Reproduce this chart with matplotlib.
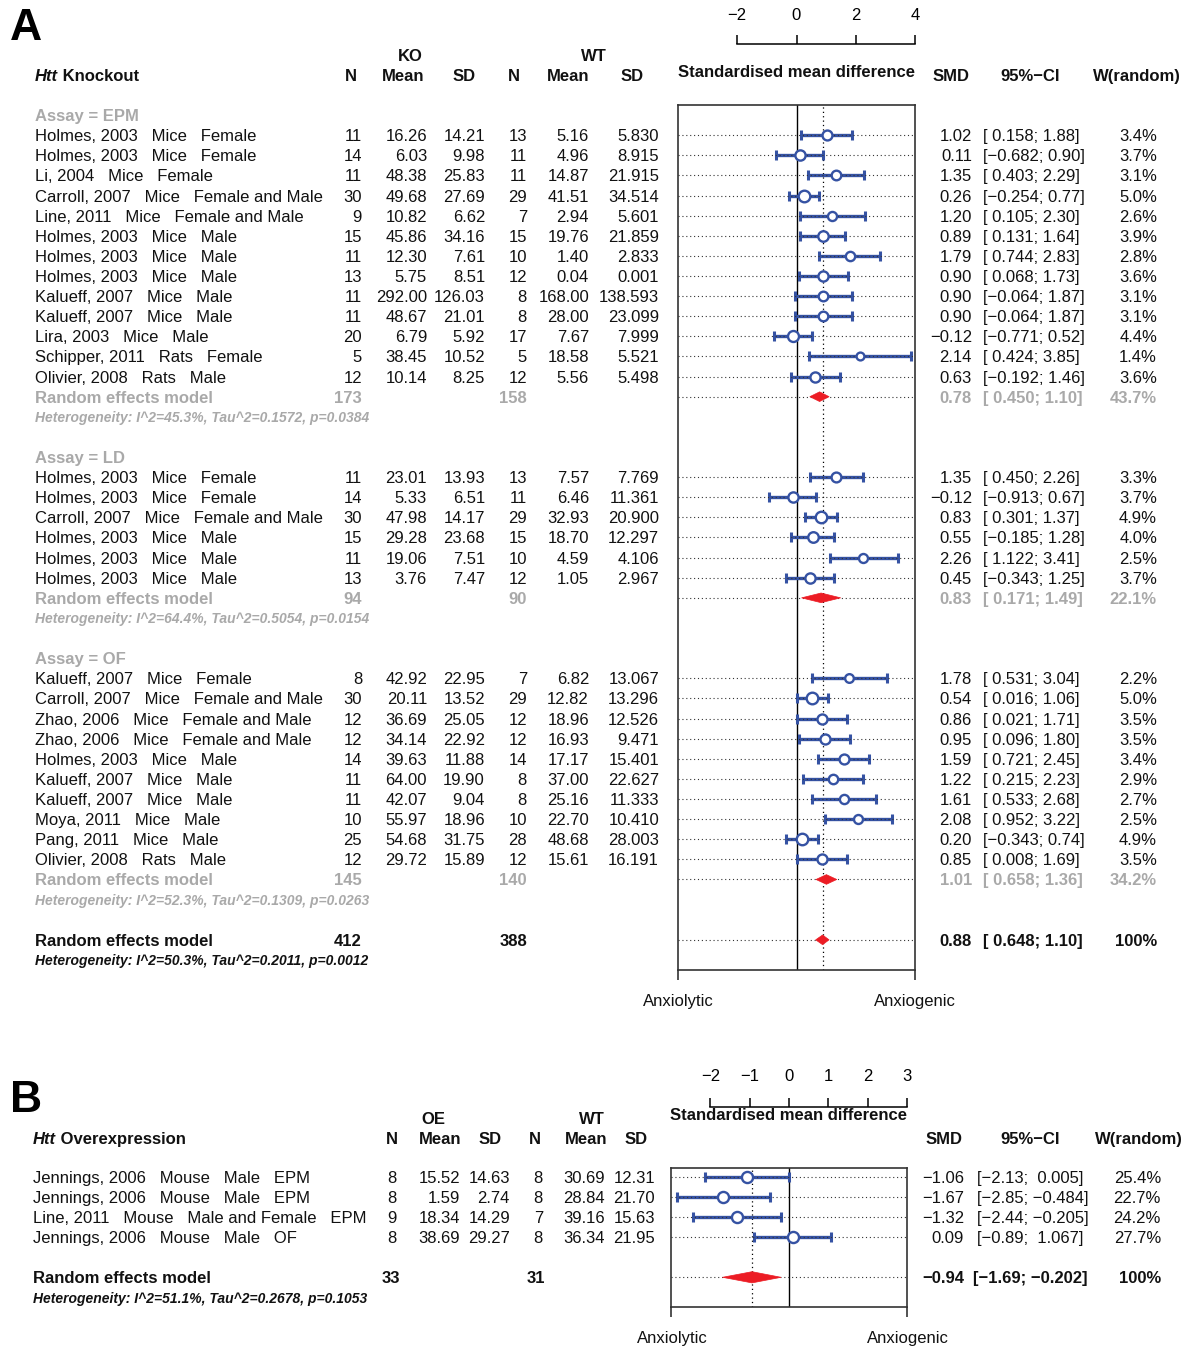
import numpy as np
import matplotlib
matplotlib.use("Agg")
import matplotlib.pyplot as plt
from matplotlib import transforms
from matplotlib.patches import Polygon

plt.rcParams['font.family'] = ['Liberation Sans', 'DejaVu Sans']

W, H = 1184, 1346
FS = 12.0
FS_HET = 10.0
BLUE = '#3552a3'
RED = '#ec1c24'
GRAY = '#a9a9a9'
INK = '#111111'

# ---------------- panel A data (Htt knockout) ----------------
a_study = [
    "Holmes, 2003   Mice   Female", "Holmes, 2003   Mice   Female", "Li, 2004   Mice   Female",
    "Carroll, 2007   Mice   Female and Male", "Line, 2011   Mice   Female and Male",
    "Holmes, 2003   Mice   Male", "Holmes, 2003   Mice   Male", "Holmes, 2003   Mice   Male",
    "Kalueff, 2007   Mice   Male", "Kalueff, 2007   Mice   Male", "Lira, 2003   Mice   Male",
    "Schipper, 2011   Rats   Female", "Olivier, 2008   Rats   Male",
    "Holmes, 2003   Mice   Female", "Holmes, 2003   Mice   Female",
    "Carroll, 2007   Mice   Female and Male", "Holmes, 2003   Mice   Male",
    "Holmes, 2003   Mice   Male", "Holmes, 2003   Mice   Male",
    "Kalueff, 2007   Mice   Female", "Carroll, 2007   Mice   Female and Male",
    "Zhao, 2006   Mice   Female and Male", "Zhao, 2006   Mice   Female and Male",
    "Holmes, 2003   Mice   Male", "Kalueff, 2007   Mice   Male", "Kalueff, 2007   Mice   Male",
    "Moya, 2011   Mice   Male", "Pang, 2011   Mice   Male", "Olivier, 2008   Rats   Male",
]
a_ko_n = [11, 14, 11, 30, 9, 15, 11, 13, 11, 11, 20, 5, 12,
          11, 14, 30, 15, 11, 13,
          8, 30, 12, 12, 14, 11, 11, 10, 25, 12]
a_ko_mean = ["16.26", "6.03", "48.38", "49.68", "10.82", "45.86", "12.30", "5.75", "292.00", "48.67",
             "6.79", "38.45", "10.14",
             "23.01", "5.33", "47.98", "29.28", "19.06", "3.76",
             "42.92", "20.11", "36.69", "34.14", "39.63", "64.00", "42.07", "55.97", "54.68", "29.72"]
a_ko_sd = ["14.21", "9.98", "25.83", "27.69", "6.62", "34.16", "7.61", "8.51", "126.03", "21.01",
           "5.92", "10.52", "8.25",
           "13.93", "6.51", "14.17", "23.68", "7.51", "7.47",
           "22.95", "13.52", "25.05", "22.92", "11.88", "19.90", "9.04", "18.96", "31.75", "15.89"]
a_wt_n = [13, 11, 11, 29, 7, 15, 10, 12, 8, 8, 17, 5, 12,
          13, 11, 29, 15, 10, 12,
          7, 29, 12, 12, 14, 8, 8, 10, 28, 12]
a_wt_mean = ["5.16", "4.96", "14.87", "41.51", "2.94", "19.76", "1.40", "0.04", "168.00", "28.00",
             "7.67", "18.58", "5.56",
             "7.57", "6.46", "32.93", "18.70", "4.59", "1.05",
             "6.82", "12.82", "18.96", "16.93", "17.17", "37.00", "25.16", "22.70", "48.68", "15.61"]
a_wt_sd = ["5.830", "8.915", "21.915", "34.514", "5.601", "21.859", "2.833", "0.001", "138.593", "23.099",
           "7.999", "5.521", "5.498",
           "7.769", "11.361", "20.900", "12.297", "4.106", "2.967",
           "13.067", "13.296", "12.526", "9.471", "15.401", "22.627", "11.333", "10.410", "28.003", "16.191"]
a_smd = ["1.02", "0.11", "1.35", "0.26", "1.20", "0.89", "1.79", "0.90", "0.90", "0.90", "-0.12", "2.14", "0.63",
         "1.35", "-0.12", "0.83", "0.55", "2.26", "0.45",
         "1.78", "0.54", "0.86", "0.95", "1.59", "1.22", "1.61", "2.08", "0.20", "0.85"]
a_lo = ["0.158", "-0.682", "0.403", "-0.254", "0.105", "0.131", "0.744", "0.068", "-0.064", "-0.064",
        "-0.771", "0.424", "-0.192",
        "0.450", "-0.913", "0.301", "-0.185", "1.122", "-0.343",
        "0.531", "0.016", "0.021", "0.096", "0.721", "0.215", "0.533", "0.952", "-0.343", "0.008"]
a_hi = ["1.88", "0.90", "2.29", "0.77", "2.30", "1.64", "2.83", "1.73", "1.87", "1.87", "0.52", "3.85", "1.46",
        "2.26", "0.67", "1.37", "1.28", "3.41", "1.25",
        "3.04", "1.06", "1.71", "1.80", "2.45", "2.23", "2.68", "3.22", "0.74", "1.69"]
a_w = ["3.4%", "3.7%", "3.1%", "5.0%", "2.6%", "3.9%", "2.8%", "3.6%", "3.1%", "3.1%", "4.4%", "1.4%", "3.6%",
       "3.3%", "3.7%", "4.9%", "4.0%", "2.5%", "3.7%",
       "2.2%", "5.0%", "3.5%", "3.5%", "3.4%", "2.9%", "2.7%", "2.5%", "4.9%", "3.5%"]

grp_name = ["EPM", "LD", "OF"]
grp_size = [13, 6, 10]
grp_ko_n = [173, 94, 145]
grp_wt_n = [158, 90, 140]
grp_smd = ["0.78", "0.83", "1.01"]
grp_lo = ["0.450", "0.171", "0.658"]
grp_hi = ["1.10", "1.49", "1.36"]
grp_w = ["43.7%", "22.1%", "34.2%"]
grp_het = ["I^2=45.3%, Tau^2=0.1572, p=0.0384",
           "I^2=64.4%, Tau^2=0.5054, p=0.0154",
           "I^2=52.3%, Tau^2=0.1309, p=0.0263"]

a_tot = [412, 388]
a_sum = ["0.88", "0.648", "1.10", "100%"]
a_het = "I^2=50.3%, Tau^2=0.2011, p=0.0012"

# ---------------- panel B data (Htt overexpression) ----------------
b_study = ["Jennings, 2006   Mouse   Male   EPM", "Jennings, 2006   Mouse   Male   EPM",
           "Line, 2011   Mouse   Male and Female   EPM", "Jennings, 2006   Mouse   Male   OF"]
b_oe_n = [8, 8, 9, 8]
b_oe_mean = ["15.52", "1.59", "18.34", "38.69"]
b_oe_sd = ["14.63", "2.74", "14.29", "29.27"]
b_wt_n = [8, 8, 7, 8]
b_wt_mean = ["30.69", "28.84", "39.16", "36.34"]
b_wt_sd = ["12.31", "21.70", "15.63", "21.95"]
b_smd = ["-1.06", "-1.67", "-1.32", "0.09"]
b_lo = ["-2.13", "-2.85", "-2.44", "-0.89"]
b_hi = ["0.005", "-0.484", "-0.205", "1.067"]
b_w = ["25.4%", "22.7%", "24.2%", "27.7%"]
b_tot = [33, 31]
b_sum = ["-0.94", "-1.69", "-0.202", "100%"]
b_het = "I^2=51.1%, Tau^2=0.2678, p=0.1053"


def mn(s):
    return s.replace('-', '\u2212')


def ci_text(lo, hi, pad_lo, pad_hi):
    l = (" " if pad_lo and not lo.startswith('-') else "") + lo
    h = (" " if pad_hi and not hi.startswith('-') else "") + hi
    return mn("[" + l + "; " + h + "]")


fig = plt.figure(figsize=(W / 100, H / 100), dpi=100)


def ftext(x, y, s, ha='left', **kw):
    kw.setdefault('fontsize', FS)
    kw.setdefault('color', INK)
    return fig.text(x / W, 1 - y / H, s, ha=ha, va='center_baseline', **kw)


def row_writer(ax):
    blend = transforms.blended_transform_factory(fig.transFigure, ax.transData)

    def put(x, k, s, ha='left', **kw):
        kw.setdefault('fontsize', FS)
        kw.setdefault('color', INK)
        return ax.text(x / W, k, s, ha=ha, va='center_baseline', transform=blend, **kw)
    return put


def forest_axes(left, right, top, bottom, xlim, ylim, zero_dot, end_ticks):
    ax = fig.add_axes([left / W, 1 - bottom / H, (right - left) / W, (bottom - top) / H])
    ax.set_xlim(*xlim)
    ax.set_ylim(*ylim)
    for sp in ax.spines.values():
        sp.set_color('#333333')
        sp.set_linewidth(1.2)
    ax.set_xticks(end_ticks)
    ax.set_xticklabels([])
    ax.tick_params(axis='x', direction='out', length=7, width=1.2, color='#333333')
    ax.set_yticks([])
    ax.axvline(0, color='black', lw=1.0, zorder=1)
    ax.axvline(zero_dot, color='black', lw=0.9, ls=(0, (1, 2.5)), zorder=1)
    return ax


def top_scale(left, right, line_y, xlim, ticks, bounds, pad):
    ax = fig.add_axes([left / W, 1 - line_y / H, (right - left) / W, 9 / H])
    ax.set_xlim(*xlim)
    ax.patch.set_visible(False)
    for name in ['top', 'left', 'right']:
        ax.spines[name].set_visible(False)
    ax.spines['bottom'].set_bounds(*bounds)
    ax.spines['bottom'].set_linewidth(1.1)
    ax.set_yticks([])
    ax.set_xticks(ticks)
    ax.tick_params(axis='x', direction='in', length=6.5, width=1.1, bottom=True, top=False,
                   labelbottom=False, labeltop=True, labelsize=FS, pad=pad)
    return ax


def draw_study(ax, k, smd, lo, hi, ms):
    ax.plot([lo, hi], [k, k], color=BLUE, lw=2.4, solid_capstyle='butt', zorder=2)
    ax.plot([lo, hi], [k, k], ls='none', marker='|', ms=6.5, mew=2.2, color=BLUE, zorder=2)
    ax.axhline(k, color='#333333', lw=0.8, ls=(0, (1, 2.5)), zorder=3)
    ax.plot([smd], [k], marker='o', ls='none', ms=ms, mfc='white', mec=BLUE, mew=1.7, zorder=4)


def draw_diamond(ax, k, smd, lo, hi, h):
    ax.axhline(k, color='#333333', lw=0.8, ls=(0, (1, 2.5)), zorder=1)
    ax.add_patch(Polygon([(lo, k), (smd, k - h), (hi, k), (smd, k + h)], closed=True,
                         facecolor=RED, edgecolor=RED, lw=0.5, zorder=4))


# ======================= PANEL A =======================
ftext(10, 24, "A", fontsize=32, fontweight='bold', color='black')

axA = forest_axes(678, 915, 105, 970, (-4, 4), (42.5, -0.5), float(a_sum[0]), [-4, 4])
top_scale(678, 915, 44, (-4, 4), [-2, 0, 2, 4], (-2, 4), 9)
put = row_writer(axA)

ftext(796, 71, "Standardised mean difference", ha='center', fontweight='bold')
ftext(410, 55, "KO", ha='center', fontweight='bold')
ftext(594, 55, "WT", ha='center', fontweight='bold')
t = ftext(35, 75, "Htt", fontweight='bold', style='italic')
axA.annotate(" Knockout", xy=(1, 0), xycoords=t, ha='left', va='bottom',
             fontsize=FS, fontweight='bold', color=INK)
for x, s in zip([351, 403, 464, 514, 568, 632], ["N", "Mean", "SD", "N", "Mean", "SD"]):
    ftext(x, 75, s, ha='center', fontweight='bold')
ftext(951, 75, "SMD", ha='center', fontweight='bold')
ftext(1030, 75, "95%\u2212CI", ha='center', fontweight='bold')
ftext(1137, 75, "W(random)", ha='center', fontweight='bold')

pad_lo_a = any(v.startswith('-') for v in a_lo + grp_lo + [a_sum[1]])
pad_hi_a = any(v.startswith('-') for v in a_hi + grp_hi + [a_sum[2]])

a_cols = [362, 427, 485, 527, 589, 659]
k = 0
i = 0
for g in range(len(grp_name)):
    put(35, k, "Assay = " + grp_name[g], fontweight='bold', color=GRAY)
    k += 1
    for _ in range(grp_size[g]):
        put(35, k, a_study[i])
        vals = [str(a_ko_n[i]), a_ko_mean[i], a_ko_sd[i], str(a_wt_n[i]), a_wt_mean[i], a_wt_sd[i]]
        for x, s in zip(a_cols, vals):
            put(x, k, s, ha='right')
        put(972, k, mn(a_smd[i]), ha='right')
        put(983, k, ci_text(a_lo[i], a_hi[i], pad_lo_a, pad_hi_a))
        put(1157, k, a_w[i], ha='right')
        wv = float(a_w[i].rstrip('%'))
        draw_study(axA, k, float(a_smd[i]), float(a_lo[i]), float(a_hi[i]), 4.6 + 0.75 * wv)
        i += 1
        k += 1
    put(35, k, "Random effects model", fontweight='bold', color=GRAY)
    put(a_cols[0], k, str(grp_ko_n[g]), ha='right', fontweight='bold', color=GRAY)
    put(a_cols[3], k, str(grp_wt_n[g]), ha='right', fontweight='bold', color=GRAY)
    put(972, k, grp_smd[g], ha='right', fontweight='bold', color=GRAY)
    put(983, k, ci_text(grp_lo[g], grp_hi[g], pad_lo_a, pad_hi_a), fontweight='bold', color=GRAY)
    put(1157, k, grp_w[g], ha='right', fontweight='bold', color=GRAY)
    draw_diamond(axA, k, float(grp_smd[g]), float(grp_lo[g]), float(grp_hi[g]), 0.24)
    k += 1
    put(35, k, "Heterogeneity: " + grp_het[g], fontsize=FS_HET, fontweight='bold',
        style='italic', color=GRAY)
    k += 2

put(35, k, "Random effects model", fontweight='bold')
put(a_cols[0], k, str(a_tot[0]), ha='right', fontweight='bold')
put(a_cols[3], k, str(a_tot[1]), ha='right', fontweight='bold')
put(972, k, a_sum[0], ha='right', fontweight='bold')
put(983, k, ci_text(a_sum[1], a_sum[2], pad_lo_a, pad_hi_a), fontweight='bold')
put(1157, k, a_sum[3], ha='right', fontweight='bold')
draw_diamond(axA, k, float(a_sum[0]), float(a_sum[1]), float(a_sum[2]), 0.24)
put(35, k + 1, "Heterogeneity: " + a_het, fontsize=FS_HET, fontweight='bold', style='italic')

ftext(678, 1000, "Anxiolytic", ha='center')
ftext(915, 1000, "Anxiogenic", ha='center')

# ======================= PANEL B =======================
ftext(10, 1096, "B", fontsize=32, fontweight='bold', color='black')

axB = forest_axes(671, 907, 1167.7, 1307.3, (-3, 3), (7.5, 0.52), float(b_sum[0]), [-3, 3])
top_scale(671, 907, 1107, (-3, 3), [-2, -1, 0, 1, 2, 3], (-2, 3), 10)
putb = row_writer(axB)

ftext(789, 1114, "Standardised mean difference", ha='center', fontweight='bold')
ftext(433, 1118, "OE", ha='center', fontweight='bold')
ftext(592, 1118, "WT", ha='center', fontweight='bold')
tb = ftext(33, 1138, "Htt", fontweight='bold', style='italic')
axB.annotate(" Overexpression", xy=(1, 0), xycoords=tb, ha='left', va='bottom',
             fontsize=FS, fontweight='bold', color=INK)
for x, s in zip([392, 440, 490, 535, 586, 636], ["N", "Mean", "SD", "N", "Mean", "SD"]):
    ftext(x, 1138, s, ha='center', fontweight='bold')
ftext(944, 1138, "SMD", ha='center', fontweight='bold')
ftext(1030, 1138, "95%\u2212CI", ha='center', fontweight='bold')
ftext(1139, 1138, "W(random)", ha='center', fontweight='bold')

pad_lo_b = any(v.startswith('-') for v in b_lo + [b_sum[1]])
pad_hi_b = any(v.startswith('-') for v in b_hi + [b_sum[2]])
pad_lo_b = pad_lo_b and not all(v.startswith('-') for v in b_lo + [b_sum[1]])

b_cols = [397, 460, 510, 543, 605, 655]
for j in range(len(b_study)):
    kb = j + 1
    putb(33, kb, b_study[j])
    vals = [str(b_oe_n[j]), b_oe_mean[j], b_oe_sd[j], str(b_wt_n[j]), b_wt_mean[j], b_wt_sd[j]]
    for x, s in zip(b_cols, vals):
        putb(x, kb, s, ha='right')
    putb(964, kb, mn(b_smd[j]), ha='right')
    putb(977, kb, ci_text(b_lo[j], b_hi[j], pad_lo_b, pad_hi_b))
    putb(1161, kb, b_w[j], ha='right')
    draw_study(axB, kb, float(b_smd[j]), float(b_lo[j]), float(b_hi[j]), 8.0)

kb = len(b_study) + 2
putb(33, kb, "Random effects model", fontweight='bold')
putb(400, kb, str(b_tot[0]), ha='right', fontweight='bold')
putb(545, kb, str(b_tot[1]), ha='right', fontweight='bold')
putb(964, kb, mn(b_sum[0]), ha='right', fontweight='bold')
putb(973, kb, ci_text(b_sum[1], b_sum[2], pad_lo_b, pad_hi_b), fontweight='bold')
putb(1161, kb, b_sum[3], ha='right', fontweight='bold')
draw_diamond(axB, kb, float(b_sum[0]), float(b_sum[1]), float(b_sum[2]), 0.28)
putb(33, kb + 1, "Heterogeneity: " + b_het, fontsize=FS_HET, fontweight='bold', style='italic')

ftext(672, 1337, "Anxiolytic", ha='center')
ftext(908, 1337, "Anxiogenic", ha='center')

fig.savefig("out.png", dpi=100, facecolor='white')
